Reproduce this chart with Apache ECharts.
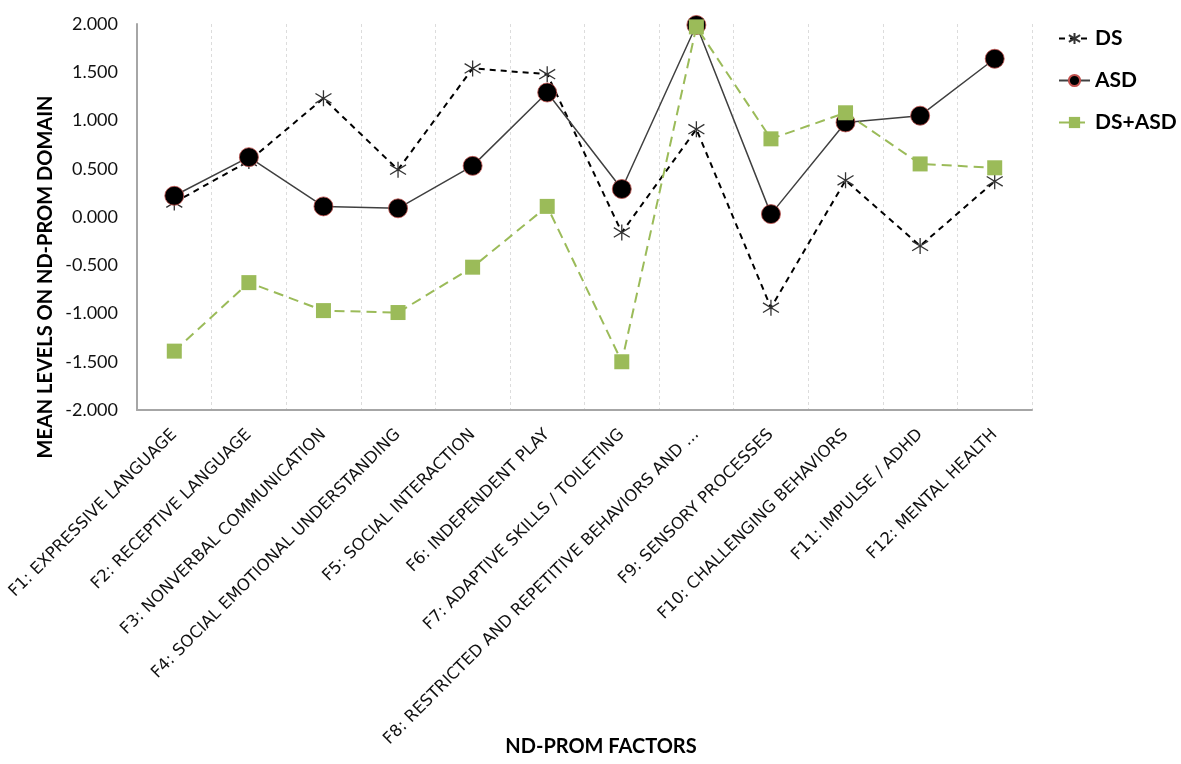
<!DOCTYPE html>
<html>
<head>
<meta charset="utf-8">
<script src="https://cdn.jsdelivr.net/npm/echarts@6/dist/echarts.min.js"></script>
<style>
html,body{margin:0;padding:0;background:#fff;}
#chart{width:1181px;height:764px;}
</style>
</head>
<body>
<div id="chart"></div>
<script>
var factors = ['F1: EXPRESSIVE LANGUAGE', 'F2: RECEPTIVE LANGUAGE', 'F3: NONVERBAL COMMUNICATION',
    'F4: SOCIAL EMOTIONAL UNDERSTANDING', 'F5: SOCIAL INTERACTION', 'F6: INDEPENDENT PLAY',
    'F7: ADAPTIVE SKILLS / TOILETING', 'F8: RESTRICTED AND REPETITIVE BEHAVIORS AND ...',
    'F9: SENSORY PROCESSES', 'F10: CHALLENGING BEHAVIORS', 'F11: IMPULSE / ADHD', 'F12: MENTAL HEALTH'];
var dsVals = [0.15, 0.58, 1.23, 0.49, 1.54, 1.48, -0.16, 0.91, -0.94, 0.38, -0.30, 0.37];
var asdVals = [0.22, 0.62, 0.11, 0.09, 0.53, 1.29, 0.29, 1.99, 0.03, 0.98, 1.05, 1.64];
var dsAsdVals = [-1.39, -0.68, -0.97, -0.99, -0.52, 0.11, -1.50, 1.97, 0.81, 1.08, 0.55, 0.51];

// asterisk marker drawn as stroked lines
var asterisk = 'path://M0,-10L0,10M-8,-6L8,6M-8,6L8,-6';

var chart = echarts.init(document.getElementById('chart'));
chart.setOption({
    animation: false,
    textStyle: {fontFamily: 'Lato'},
    grid: {left: 137, right: 149, top: 24, bottom: 354},
    legend: {
        orient: 'vertical',
        left: 1058,
        top: 28,
        padding: 0,
        itemGap: 21,
        itemWidth: 31,
        itemHeight: 14,
        textStyle: {fontSize: 21, fontWeight: 'bold', color: '#000', fontFamily: 'Lato'},
        data: ['DS', 'ASD', 'DS+ASD']
    },
    // axis titles (Excel puts them off-centre)
    graphic: [{
        type: 'text',
        x: 46, y: 277,
        rotation: Math.PI / 2,
        style: {text: 'MEAN LEVELS ON ND-PROM DOMAIN', font: 'bold 20px Lato', fill: '#000',
            textAlign: 'center', textVerticalAlign: 'middle'}
    }, {
        type: 'text',
        x: 601, y: 747,
        style: {text: 'ND-PROM FACTORS', font: 'bold 20px Lato', fill: '#000',
            textAlign: 'center', textVerticalAlign: 'middle'}
    }],
    xAxis: {
        type: 'category',
        data: factors,
        axisLine: {onZero: false, lineStyle: {color: '#a6a6a6', width: 2}},
        axisTick: {show: false},
        axisLabel: {rotate: 45, fontSize: 16.5, fontFamily: 'DejaVu Sans', color: '#111', margin: 22, interval: 0},
        splitLine: {show: true, lineStyle: {color: '#dcdcdc', type: [3, 3]}}
    },
    yAxis: {
        type: 'value',
        min: -2,
        max: 2,
        interval: 0.5,
        axisLine: {show: true, lineStyle: {color: '#a6a6a6', width: 2}},
        axisTick: {show: false},
        splitLine: {show: false},
        axisLabel: {
            fontSize: 18, fontFamily: 'Lato', color: '#111', margin: 19,
            formatter: function (v) { return v.toFixed(3); }
        }
    },
    series: [{
        name: 'DS',
        type: 'line',
        data: dsVals,
        symbol: asterisk,
        symbolSize: 16,
        z: 3,
        lineStyle: {color: '#000', width: 2, type: [6, 5]},
        itemStyle: {color: 'none', borderColor: '#333', borderWidth: 1.3}
    }, {
        name: 'ASD',
        type: 'line',
        data: asdVals,
        symbol: 'circle',
        symbolSize: 19,
        z: 4,
        lineStyle: {color: '#404040', width: 1.5},
        itemStyle: {color: '#000', borderColor: '#c0504d', borderWidth: 0.8}
    }, {
        name: 'DS+ASD',
        type: 'line',
        data: dsAsdVals,
        symbol: 'rect',
        symbolSize: 15,
        z: 5,
        lineStyle: {color: '#9bbb59', width: 2, type: [10, 6]},
        itemStyle: {color: '#9bbb59'}
    }]
});
</script>
</body>
</html>
